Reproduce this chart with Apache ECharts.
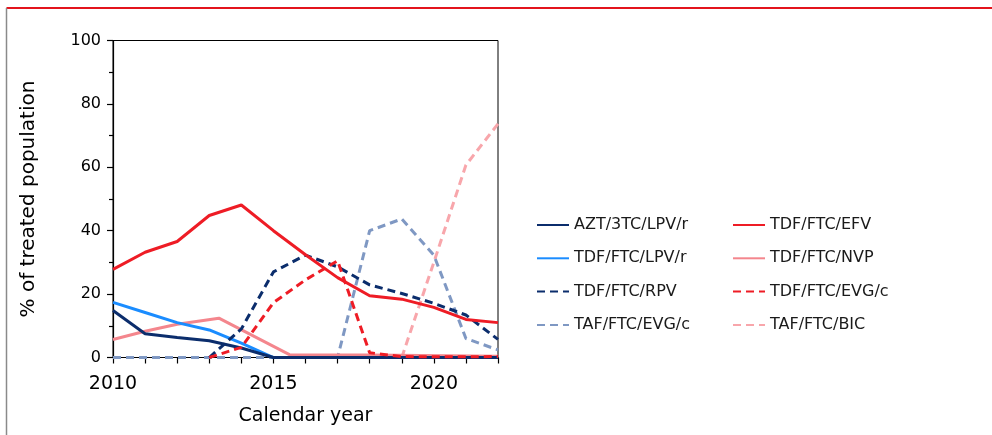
<!DOCTYPE html>
<html><head><meta charset="utf-8">
<script src="https://cdn.jsdelivr.net/npm/echarts@6/dist/echarts.min.js"></script>
<style>html,body{margin:0;padding:0;background:#fff}#c{width:992px;height:435px}</style>
</head><body><div id="c"></div>
<script>
const years = [2010, 2011, 2012, 2013, 2014, 2015, 2016, 2017, 2018, 2019, 2020, 2021, 2022];
const aztLpv  = [14.8, 7.5, 6.3, 5.3, 3.0, 0, 0, 0, 0, 0, 0, 0, 0];
const tdfLpv  = [17.4, 14.2, 11.0, 8.7, 4.5, 0, 0, 0, 0, 0, 0, 0, 0];
const tdfRpv  = [null, null, null, 0, 9.0, 27.0, 32.3, 28.6, 22.9, 20.2, 17.1, 13.4, 5.7];
const tafEvg  = [0, 0, 0, 0, 0, 0, 0, 0, 40.0, 43.7, 32.3, 6.0, 2.4];
const tdfEfv  = [27.8, 33.2, 36.6, 44.8, 48.1, 40.0, 32.4, 25.2, 19.5, 18.4, 15.8, 12.0, 11.0];
const tdfEvg  = [null, null, null, 0, 3.2, 17.3, 24.5, 30.5, 1.5, 0.3, 0.2, 0.2, 0.3];
const tafBic  = [null, null, null, null, null, null, null, null, null, 0, 30.0, 60.7, 73.7];
const nvpYears = [2010, 2011, 2012, 2013.3, 2015.5, 2018, 2022];
const tdfNvp  = [5.7, 8.3, 10.5, 12.4, 0.9, 0.8, 0.4];
const xTickLabels = [2010, 2015, 2020];
const yTickLabels = [0, 20, 40, 60, 80, 100];

const legendLeft = ['AZT/3TC/LPV/r', 'TDF/FTC/LPV/r', 'TDF/FTC/RPV', 'TAF/FTC/EVG/c'];
const legendRight = ['TDF/FTC/EFV', 'TDF/FTC/NVP', 'TDF/FTC/EVG/c', 'TAF/FTC/BIC'];

const FONT = 'DejaVu Sans';
const DASH = [8, 5];
function pairs(xs, ys) { return xs.map((x, i) => [x, ys[i]]); }
function mk(name, xs, ys, color, dashed, z) {
  return {
    name, type: 'line', data: pairs(xs, ys), symbol: 'none', clip: false, z: z,
    lineStyle: { color, width: 3, type: dashed ? DASH : 'solid' },
    itemStyle: { color },
    emphasis: { disabled: true }
  };
}

const chart = echarts.init(document.getElementById('c'), null, { renderer: 'canvas' });
const legendCommon = {
  orient: 'vertical', itemWidth: 32, itemHeight: 14, itemGap: 17.3, padding: 0,
  top: 217, selectedMode: false,
  itemStyle: { opacity: 0 },
  textStyle: { fontFamily: FONT, fontSize: 16, color: '#1a1a1a', padding: [0, 0, 0, 0] }
};
chart.setOption({
  animation: false,
  backgroundColor: '#fff',
  textStyle: { fontFamily: FONT },
  graphic: [
    { type: 'line', shape: { x1: 6.5, y1: 8, x2: 992, y2: 8 }, style: { stroke: '#e3141c', lineWidth: 2 } },
    { type: 'line', shape: { x1: 6.5, y1: 8, x2: 6.5, y2: 435 }, style: { stroke: '#8a8a8a', lineWidth: 1.5 } }
  ],
  grid: { left: 113, right: 494, top: 40.5, bottom: 77.5, show: true, borderColor: '#000', borderWidth: 1, backgroundColor: 'transparent' },
  legend: [
    Object.assign({}, legendCommon, { left: 536, data: legendLeft }),
    Object.assign({}, legendCommon, { left: 732, data: legendRight })
  ],
  xAxis: {
    type: 'value', min: 2010, max: 2022, interval: 1,
    name: 'Calendar year', nameLocation: 'middle', nameGap: 49,
    nameTextStyle: { fontFamily: FONT, fontSize: 19, color: '#000' },
    axisLine: { lineStyle: { color: '#000', width: 1.2 } },
    axisTick: { show: true, inside: false, length: 6, lineStyle: { color: '#000', width: 1.2 } },
    axisLabel: {
      fontFamily: FONT, fontSize: 19, color: '#000', margin: 17,
      formatter: v => xTickLabels.includes(v) ? String(v) : ''
    },
    splitLine: { show: false }
  },
  yAxis: {
    type: 'value', min: 0, max: 100, interval: 20,
    name: '% of treated population', nameLocation: 'middle', nameGap: 74,
    nameTextStyle: { fontFamily: FONT, fontSize: 20, color: '#000' },
    axisLine: { show: true, lineStyle: { color: '#000', width: 1.2 } },
    axisTick: { show: true, inside: false, length: 6, lineStyle: { color: '#000', width: 1.2 } },
    minorTick: { show: true, splitNumber: 2, length: 4, lineStyle: { color: '#000', width: 1.2 } },
    axisLabel: {
      fontFamily: FONT, fontSize: 16, color: '#000', margin: 12,
      formatter: v => yTickLabels.includes(v) ? String(v) : ''
    },
    splitLine: { show: false }, minorSplitLine: { show: false }
  },
  series: [
    mk('TAF/FTC/BIC', years, tafBic, '#f8a6ab', true, 2),
    mk('TAF/FTC/EVG/c', years, tafEvg, '#7f98c3', true, 2),
    mk('TDF/FTC/NVP', nvpYears, tdfNvp, '#f4868d', false, 3),
    mk('TDF/FTC/LPV/r', years, tdfLpv, '#1a8cff', false, 3),
    mk('AZT/3TC/LPV/r', years, aztLpv, '#0b2d6c', false, 4),
    mk('TDF/FTC/RPV', years, tdfRpv, '#0b2d6c', true, 4),
    mk('TDF/FTC/EVG/c', years, tdfEvg, '#ee1c25', true, 4),
    mk('TDF/FTC/EFV', years, tdfEfv, '#ee1c25', false, 5)
  ]
});
</script>
</body></html>
